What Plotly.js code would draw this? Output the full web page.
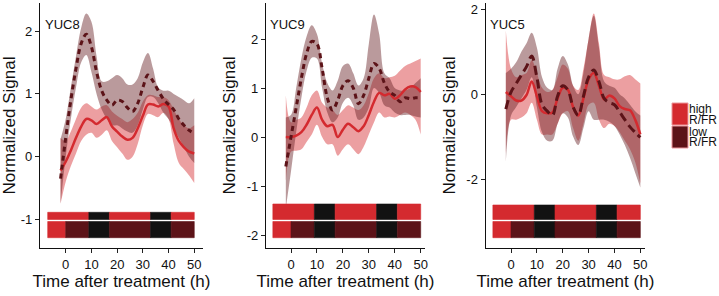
<!DOCTYPE html>
<html>
<head>
<meta charset="utf-8">
<script src="https://cdn.plot.ly/plotly-3.0.1.min.js"></script>
<style>html,body{margin:0;padding:0;background:#fff;}#chart{width:719px;height:296px;}</style>
</head>
<body>
<div id="chart"></div>
<script>
// ---- data ----
const time = [-2,0,2,4,6,8,10,12,14,16,18,20,22,24,26,28,30,32,34,36,38,40,42,44,46,48,50];
const genes = ["YUC8","YUC9","YUC5"];

// YUC8
const yuc8High    = [-0.22,-0.08,0.10,0.30,0.48,0.60,0.58,0.52,0.58,0.63,0.48,0.40,0.32,0.27,0.30,0.45,0.65,0.83,0.83,0.80,0.84,0.80,0.45,0.25,0.15,0.08,0.05];
const yuc8HighUp  = [0.30,0.25,0.40,0.60,0.78,0.85,0.80,0.75,0.80,0.82,0.72,0.65,0.60,0.55,0.60,0.70,0.88,0.98,0.98,0.95,0.95,0.90,0.75,0.60,0.50,0.45,0.50];
const yuc8HighLo  = [-0.75,-0.40,-0.15,0.05,0.25,0.35,0.38,0.30,0.35,0.42,0.25,0.15,0.05,-0.05,0.00,0.20,0.50,0.68,0.66,0.63,0.70,0.60,0.20,-0.10,-0.20,-0.30,-0.42];
const yuc8Low     = [-0.35,0.30,0.90,1.40,1.80,1.95,1.75,1.35,1.05,0.90,0.82,0.90,0.88,0.78,0.72,0.85,1.10,1.30,1.20,1.05,0.92,0.83,0.75,0.60,0.50,0.42,0.37];
const yuc8LowUp   = [0.28,0.60,1.10,1.60,2.05,2.28,2.15,1.60,1.20,1.20,1.25,1.30,1.25,1.15,1.15,1.25,1.50,1.65,1.40,1.10,1.05,1.05,1.00,0.95,0.90,0.85,0.93];
const yuc8LowLo   = [-0.75,0.00,0.60,1.10,1.50,1.62,1.35,1.00,0.75,0.60,0.50,0.50,0.45,0.40,0.38,0.50,0.75,0.95,0.95,0.85,0.70,0.60,0.45,0.30,0.15,0.00,-0.10];

// YUC9
const yuc9High    = [0.00,0.00,0.03,0.10,0.25,0.45,0.60,0.35,0.22,0.25,0.00,0.15,0.27,0.20,0.12,0.22,0.45,0.72,0.90,0.85,0.88,0.78,0.85,0.97,1.03,1.02,0.92];
const yuc9HighUp  = [0.85,0.30,0.35,0.40,0.60,0.85,0.95,0.70,0.60,0.55,0.45,0.55,0.65,0.60,0.55,0.65,0.90,1.20,1.30,1.20,1.22,1.25,1.35,1.45,1.50,1.55,1.60];
const yuc9HighLo  = [-0.90,-0.30,-0.28,-0.25,-0.10,0.05,0.25,0.00,-0.15,-0.15,-0.38,-0.25,-0.15,-0.25,-0.35,-0.20,0.05,0.30,0.50,0.40,0.42,0.40,0.45,0.50,0.45,0.35,0.05];
const yuc9Low     = [-0.60,0.00,0.60,1.20,1.70,1.95,1.90,1.40,0.80,0.55,0.75,1.05,1.15,1.00,0.68,0.85,1.20,1.50,1.40,1.10,0.92,0.85,0.72,0.80,0.78,0.80,0.80];
const yuc9LowUp   = [0.40,0.45,1.00,1.60,2.05,2.28,2.10,1.50,1.10,0.95,1.15,1.45,1.50,1.30,1.05,1.20,1.90,2.50,2.10,1.30,1.20,1.00,0.95,0.95,1.00,1.10,1.20];
const yuc9LowLo   = [-1.45,-0.70,0.10,0.80,1.35,1.62,1.60,1.00,0.50,0.30,0.40,0.70,0.80,0.65,0.35,0.40,0.60,1.00,0.90,0.65,0.60,0.50,0.45,0.45,0.45,0.42,0.40];

// YUC5
const yuc5High    = [0.05,-0.05,-0.15,-0.15,-0.02,0.30,-0.05,-0.40,-0.45,-0.43,-0.10,0.15,0.10,-0.30,-0.50,-0.10,0.35,0.50,0.20,-0.12,-0.03,-0.10,-0.28,-0.35,-0.38,-0.60,-0.95];
const yuc5HighUp  = [1.50,0.60,0.40,0.45,0.50,0.80,0.50,0.15,0.05,0.10,0.40,0.70,0.60,0.20,0.10,0.60,1.30,1.90,1.20,0.45,0.40,0.35,0.35,0.42,0.45,0.35,0.25];
const yuc5HighLo  = [-1.40,-0.60,-0.60,-0.55,-0.45,-0.20,-0.60,-0.95,-0.95,-0.95,-0.70,-0.45,-0.40,-0.80,-1.10,-0.70,-0.25,-0.20,-0.60,-0.80,-0.70,-0.75,-0.90,-1.10,-1.30,-1.60,-2.10];
const yuc5Low     = [-0.35,0.05,0.25,0.45,0.65,0.90,0.40,-0.25,-0.40,-0.50,-0.05,0.20,0.10,-0.30,-0.50,-0.05,0.40,0.57,0.30,-0.10,-0.20,-0.25,-0.42,-0.60,-0.77,-0.90,-1.02];
const yuc5LowUp   = [0.50,0.60,0.75,1.00,1.20,1.45,1.10,0.40,0.15,0.10,0.60,0.90,0.70,0.20,0.00,0.50,1.30,1.85,1.10,0.30,0.20,0.15,0.00,-0.10,-0.25,-0.40,-0.50];
const yuc5LowLo   = [-1.60,-0.50,-0.30,-0.10,0.10,0.40,-0.30,-0.90,-1.10,-1.10,-0.70,-0.45,-0.55,-1.00,-1.20,-0.80,-0.40,-0.60,-0.60,-0.60,-0.65,-0.75,-0.95,-1.20,-1.50,-1.85,-2.20];

// light schedule (h) and rows: top row = high R/FR, bottom row = low R/FR
const scheduleEdges = [-7,0,9,17,33,41,50];
const scheduleHigh  = ["light","light","dark","light","dark","light"];
const scheduleLow   = ["light","shade","dark","shade","dark","shade"];

const yTicks = [[-1,0,1,2],[-2,-1,0,1,2],[-2,0,2]];
const xTicks = [0,10,20,30,40,50];
const legendLabels = [["high","R/FR"],["low","R/FR"]];

// ---- styling ----
const W = 719, H = 296;
const FONT = "Liberation Sans, Arial, sans-serif";
const RED = "#d42a2f", DARK = "#5c1318", BLACK = "#121212";
const RED_FILL = "rgba(212,42,47,0.45)", DARK_FILL = "rgba(105,35,40,0.46)";
const segColor = {light: RED, shade: DARK, dark: BLACK};

const series = [
  {hi: yuc8High, hiU: yuc8HighUp, hiL: yuc8HighLo, lo: yuc8Low, loU: yuc8LowUp, loL: yuc8LowLo},
  {hi: yuc9High, hiU: yuc9HighUp, hiL: yuc9HighLo, lo: yuc9Low, loU: yuc9LowUp, loL: yuc9LowLo},
  {hi: yuc5High, hiU: yuc5HighUp, hiL: yuc5HighLo, lo: yuc5Low, loU: yuc5LowUp, loL: yuc5LowLo}
];

// panel geometry (pixels) and axis ranges
const panels = [
  {x0: 40,    x1: 203, xr: [-10.0, 53.4], yr: [-1.454, 2.447], dash: "5px,4px", top: 212.3, lab: 43},
  {x0: 266,   x1: 425, xr: [-9.64, 51.66], yr: [-2.265, 2.735], dash: "5px,4px", top: 204,  lab: 268},
  {x0: 485.7, x1: 645, xr: [-9.78, 51.8], yr: [-3.627, 2.15], dash: "9px,5px", top: 205,  lab: 488}
];
const PT = 3, PB = 248;
const px2x = p => p / W;
const px2y = p => 1 - p / H;
const dom = p => (PB - p) / (PB - PT);

// merge runs of equal colour so bars have no seams
function runs(states) {
  const out = [];
  states.forEach((st, j) => {
    const last = out[out.length - 1];
    if (last && last.st === st) last.x1 = scheduleEdges[j + 1];
    else out.push({st: st, x0: scheduleEdges[j], x1: scheduleEdges[j + 1]});
  });
  return out;
}

const traces = [];
const shapes = [];
const annotations = [];
const layout = {
  width: W, height: H,
  margin: {l: 0, r: 0, t: 0, b: 0},
  paper_bgcolor: "#fff", plot_bgcolor: "#fff",
  showlegend: false,
  font: {family: FONT, color: "#000"}
};

panels.forEach((p, i) => {
  const n = i === 0 ? "" : String(i + 1);
  const xa = "x" + n, ya = "y" + n;
  const s = series[i];
  const line0 = {width: 0, shape: "spline", smoothing: 1};
  traces.push({x: time, y: s.hiL, xaxis: xa, yaxis: ya, mode: "lines", line: line0, hoverinfo: "skip"});
  traces.push({x: time, y: s.hiU, xaxis: xa, yaxis: ya, mode: "lines", line: line0, fill: "tonexty", fillcolor: RED_FILL, hoverinfo: "skip"});
  traces.push({x: time, y: s.loL, xaxis: xa, yaxis: ya, mode: "lines", line: line0, hoverinfo: "skip"});
  traces.push({x: time, y: s.loU, xaxis: xa, yaxis: ya, mode: "lines", line: line0, fill: "tonexty", fillcolor: DARK_FILL, hoverinfo: "skip"});
  traces.push({x: time, y: s.hi, xaxis: xa, yaxis: ya, mode: "lines", line: {color: RED, width: 2.5, shape: "spline", smoothing: 1}});
  traces.push({x: time, y: s.lo, xaxis: xa, yaxis: ya, mode: "lines", line: {color: DARK, width: 3, dash: p.dash, shape: "spline", smoothing: 1}});

  layout["xaxis" + n] = {
    domain: [px2x(p.x0), px2x(p.x1)], range: p.xr, anchor: ya,
    tickvals: xTicks, ticktext: xTicks.map(String), ticks: "outside", ticklen: 4, tickwidth: 1, tickcolor: "#222",
    showline: true, linecolor: "#111", linewidth: 1.2, showgrid: false, zeroline: false,
    tickfont: {family: FONT, size: 13, color: "#111"},
    title: {text: "Time after treatment (h)", font: {family: FONT, size: 17, color: "#111"}, standoff: 4},
    fixedrange: true
  };
  layout["yaxis" + n] = {
    domain: [px2y(PB), px2y(PT)], range: p.yr, anchor: xa,
    tickvals: yTicks[i], ticktext: yTicks[i].map(String), ticks: "outside", ticklen: 4, tickwidth: 1, tickcolor: "#222",
    showline: true, linecolor: "#111", linewidth: 1.2, showgrid: false, zeroline: false,
    tickfont: {family: FONT, size: 13, color: "#111"},
    title: {text: "Normalized Signal", font: {family: FONT, size: 17, color: "#111"}, standoff: 6},
    fixedrange: true
  };

  // schedule bars
  const rows = [
    {states: scheduleHigh, y0: dom(219.5), y1: dom(p.top)},
    {states: scheduleLow,  y0: dom(237.7), y1: dom(221.5)}
  ];
  rows.forEach(r => {
    runs(r.states).forEach(seg => {
      shapes.push({type: "rect", xref: xa, yref: ya + " domain",
        x0: seg.x0, x1: seg.x1, y0: r.y0, y1: r.y1,
        fillcolor: segColor[seg.st], line: {width: 0.6, color: segColor[seg.st]}, layer: "above"});
    });
  });

  annotations.push({text: genes[i], xref: "paper", yref: "paper", x: px2x(p.lab), y: px2y(25),
    xanchor: "left", yanchor: "middle", showarrow: false, font: {family: FONT, size: 13, color: "#111"}});
});

// legend
const legendBoxes = [{c: RED, y0: 103, y1: 125}, {c: DARK, y0: 126, y1: 148}];
legendBoxes.forEach((b, k) => {
  shapes.push({type: "rect", xref: "paper", yref: "paper", x0: px2x(672), x1: px2x(688), y0: px2y(b.y1), y1: px2y(b.y0),
    fillcolor: b.c, line: {color: "rgba(236,150,155,1)", width: 1}});
  legendLabels[k].forEach((t, m) => {
    annotations.push({text: t, xref: "paper", yref: "paper", x: px2x(687.5), y: px2y(b.y0 + 5.5 + m * 11),
      xanchor: "left", yanchor: "middle", showarrow: false, borderpad: 0,
      font: {family: FONT, size: 12, color: "#111"}});
  });
});

layout.shapes = shapes;
layout.annotations = annotations;
Plotly.newPlot("chart", traces, layout, {staticPlot: true, displayModeBar: false});
</script>
</body>
</html>
